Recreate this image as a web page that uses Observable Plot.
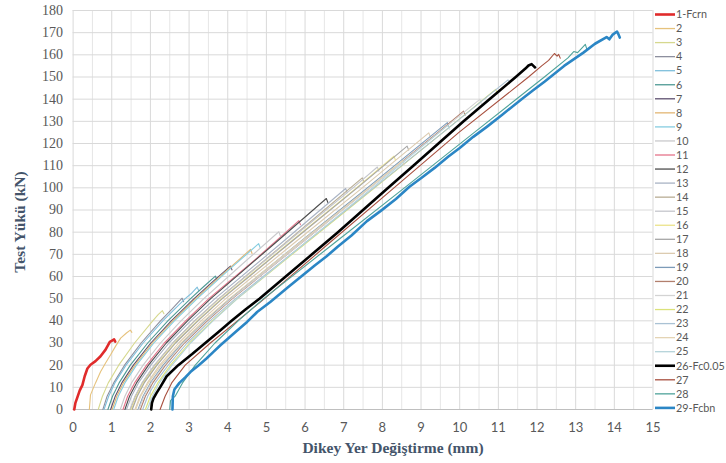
<!DOCTYPE html>
<html><head><meta charset="utf-8">
<script src="https://cdn.jsdelivr.net/npm/d3@7"></script>
<script src="https://cdn.jsdelivr.net/npm/@observablehq/plot@0.6"></script>
<style>
body{margin:0;background:#fff;}
#wrap{position:relative;width:726px;height:463px;overflow:hidden;background:#fff;}
#wrap svg.plot{position:absolute;left:0;top:0;}
.ytitle,.xtitle{position:absolute;font-family:"Liberation Serif",serif;font-weight:bold;font-size:15.5px;color:#44546a;white-space:nowrap;}
.xtitle{left:393px;top:448px;transform:translate(-50%,-50%);}
.ytitle{left:20px;top:222px;transform:translate(-50%,-50%) rotate(-90deg);}
#legend{position:absolute;left:650px;top:0;}
</style></head><body>
<div id="wrap"></div>
<script>
const seriesNames = ["1-Fcrn","2","3","4","5","6","7","8","9","10","11","12","13","14","15","16","17","18","19","20","21","22","23","24","25","26-Fc0.05","27","28","29-Fcbn"];
const seriesColors = ["#e02b2b","#e6c27c","#d6d88e","#8d8f9e","#7fbfdc","#4e9a95","#5d4f6e","#e3b673","#86cde0","#c9c9cc","#e5738a","#4d4d4d","#a9b3c4","#b8ad94","#c4c6cc","#ebe38a","#a6a6a6","#dccbb0","#7c9bb8","#b27f6d","#d3d3d3","#dbe27a","#aac2d4","#e4d4b4","#b5d3da","#000000","#a8503f","#4fa39a","#2b86c5"];
const thickSeries = ["1-Fcrn","26-Fc0.05","29-Fcbn"];
const xTicks = [0,1,2,3,4,5,6,7,8,9,10,11,12,13,14,15];
const xMinor = [0.5,1.5,2.5,3.5,4.5,5.5,6.5,7.5,8.5,9.5,10.5,11.5,12.5,13.5,14.5];
const yTicks = [0,10,20,30,40,50,60,70,80,90,100,110,120,130,140,150,160,170,180];

const s01 = [[0.03,0],[0.06,3],[0.11,5.5],[0.17,8.5],[0.24,11],[0.3,15],[0.37,18.5],[0.45,20.2],[0.58,21.8],[0.71,24],[0.84,27],[0.95,30.5],[1.02,31.2],[1.06,31.6],[1.09,30.6]];
const s02 = [[0.42,0],[0.45,6.6],[0.58,12],[0.71,17],[0.84,21],[0.97,24.7],[1.1,28.6],[1.23,32.2],[1.38,34.5],[1.48,35.8],[1.52,34.8]];
const s03 = [[0.65,0],[0.76,6],[0.91,12],[1.18,20],[1.59,30],[2.06,40],[2.2,42.8],[2.31,44.6],[2.35,43.2]];
const s04 = [[0.77,0],[0.88,6],[1.05,12],[1.33,20],[1.76,30],[2.26,40],[2.55,45.2],[2.82,50.2],[2.86,48.6]];
const s05 = [[0.8,0],[0.92,6],[1.08,12],[1.37,20],[1.81,30],[2.32,40],[2.9,50],[3.05,52.2],[3.21,55.2],[3.25,53.6]];
const s06 = [[0.9,0],[1.02,6],[1.19,12],[1.48,20],[1.93,30],[2.45,40],[3.04,50],[3.38,55.5],[3.68,60.2],[3.72,58.5]];
const s07 = [[0.97,0],[1.09,6],[1.26,12],[1.56,20],[2.01,30],[2.54,40],[3.13,50],[3.62,57.8],[4.07,64.7],[4.11,63]];
const s08 = [[1.01,0],[1.13,6],[1.3,12],[1.6,20],[2.05,30],[2.58,40],[3.17,50],[3.9,61.5],[4.59,72.2],[4.63,70.4]];
const s09 = [[1.05,0],[1.17,6],[1.34,12],[1.64,20],[2.09,30],[2.62,40],[3.21,50],[4.0,62.5],[4.8,74.8],[4.84,73]];
const s10 = [[1.22,0],[1.34,6],[1.51,12],[1.81,20],[2.26,30],[2.79,40],[3.38,50],[4.35,65.2],[5.32,80.2],[5.36,78.4]];
const s11 = [[1.29,0],[1.41,6],[1.59,12],[1.9,20],[2.36,30],[2.91,40],[3.51,50],[4.7,67.5],[5.84,85.2],[5.88,83.4]];
const s12 = [[1.34,0],[1.46,6],[1.64,12],[1.95,20],[2.41,30],[2.96,40],[3.56,50],[5.22,75],[6.55,95.2],[6.59,93.4]];
const s13 = [[1.38,0],[1.51,6],[1.69,12],[2.01,20],[2.48,30],[3.04,40],[3.67,50],[5.38,75],[7.05,99.7],[7.09,97.8]];
const s14 = [[1.48,0],[1.61,6],[1.79,12],[2.11,20],[2.58,30],[3.14,40],[3.77,50],[5.48,75],[7.48,104.5],[7.52,102.6]];
const s15 = [[1.47,0],[1.6,6],[1.78,12],[2.1,20],[2.58,30],[3.15,40],[3.78,50],[5.5,75],[7.24,100],[7.87,109.4],[7.91,107.5]];
const s16 = [[1.51,0],[1.64,6],[1.82,12],[2.15,20],[2.63,30],[3.21,40],[3.84,50],[5.58,75],[7.33,100],[8.3,114.3],[8.34,112.4]];
const s17 = [[1.53,0],[1.66,6],[1.84,12],[2.17,20],[2.65,30],[3.23,40],[3.86,50],[5.6,75],[7.35,100],[8.64,118.8],[8.68,117]];
const s18 = [[1.6,0],[1.73,6],[1.92,12],[2.24,20],[2.73,30],[3.31,40],[3.95,50],[5.71,75],[7.48,100],[9.2,124.8],[9.24,123]];
const s19 = [[1.68,0],[1.81,6],[2.0,12],[2.33,20],[2.82,30],[3.41,40],[4.06,50],[5.83,75],[7.61,100],[9.68,129.4],[9.72,127.5]];
const s20 = [[1.74,0],[1.87,6],[2.06,12],[2.39,20],[2.88,30],[3.47,40],[4.12,50],[5.89,75],[7.67,100],[9.44,125],[10.1,134.6],[10.14,132.8]];
const s21 = [[1.7,0],[1.83,6],[2.02,12],[2.36,20],[2.85,30],[3.44,40],[4.1,50],[5.89,75],[7.68,100],[9.47,125],[10.52,139.9],[10.56,138]];
const s22 = [[1.87,0],[2.0,6],[2.19,12],[2.52,20],[3.01,30],[3.6,40],[4.25,50],[6.02,75],[7.8,100],[9.57,125],[10.93,144.4],[10.97,142.5]];
const s23 = [[1.8,0],[1.93,6],[2.12,12],[2.46,20],[2.95,30],[3.54,40],[4.2,50],[5.99,75],[7.78,100],[9.57,125],[11.25,148.7],[11.29,147]];
const s24 = [[1.62,0],[1.75,6],[1.95,12],[2.28,20],[2.79,30],[3.38,40],[4.04,50],[5.84,75],[7.66,100],[8.52,112.2],[8.56,110.5]];
const s25 = [[1.92,0],[2.05,6],[2.23,12],[2.56,20],[3.04,30],[3.62,40],[4.25,50],[5.99,75],[7.74,100],[9.69,128.2],[9.73,126.5]];
const s26 = [[2.02,0],[2.04,3],[2.08,5],[2.16,7.5],[2.25,10],[2.42,15],[2.72,20],[3.08,25],[3.42,30],[3.76,35],[4.1,40],[4.45,45],[4.82,50],[5.5,60],[6.18,70],[6.85,80],[7.5,90],[8.15,100],[8.8,110],[9.45,120],[10.1,130],[10.77,140],[11.45,150],[11.7,153.8],[11.78,155.2],[11.86,155.8],[11.92,154.8],[11.95,154.3]];
const s27 = [[2.25,0],[2.38,6],[2.55,12],[2.9,20],[3.55,30],[4.25,40],[4.95,50],[6.62,75],[8.3,100],[9.98,125],[11.78,150],[12.12,155],[12.3,157.5],[12.45,160.6],[12.52,159.4],[12.56,160.2],[12.6,158.5]];
const s28 = [[2.5,0],[2.52,4],[2.64,6],[2.83,12],[3.16,20],[3.67,30],[4.27,40],[4.93,50],[6.75,75],[8.57,100],[10.38,125],[12.19,150],[12.8,158.6],[12.95,161.5],[13.05,161],[13.25,164.7],[13.29,162.5]];
const s29 = [[2.57,0],[2.58,6],[2.62,9],[2.75,12],[2.9,14.5],[3.04,17],[3.25,20],[3.45,23],[3.63,26],[3.81,29],[4.2,35],[4.5,39.5],[4.76,44],[5.1,48.5],[5.55,55],[5.9,60],[6.25,65],[6.55,69],[6.85,73.5],[7.2,78.5],[7.6,85],[7.95,89.5],[8.35,95],[8.7,100.5],[9.05,105],[9.35,109],[9.7,114],[10.0,118],[10.35,123],[10.7,127.5],[11.1,133],[11.6,140],[11.9,144],[12.2,148],[12.7,155],[13.2,161],[13.5,165],[13.8,168],[13.87,167],[13.95,169],[14.07,170.5],[14.1,169.5],[14.14,167.8]];

const allSeries = [s01,s02,s03,s04,s05,s06,s07,s08,s09,s10,s11,s12,s13,s14,s15,s16,s17,s18,s19,s20,s21,s22,s23,s24,s25,s26,s27,s28,s29];

const rows = [];
allSeries.forEach((pts, i) => pts.forEach(([x, y]) => rows.push({x, y, s: seriesNames[i], c: seriesColors[i]})));
const thin = rows.filter(d => !thickSeries.includes(d.s));
const thickMarks = thickSeries.map(name => Plot.line(rows.filter(d => d.s === name), {x: "x", y: "y", stroke: "c", strokeWidth: 2.6, strokeLinejoin: "round"}));

const plot = Plot.plot({
  width: 726, height: 463,
  marginLeft: 72.6, marginRight: 73.5, marginTop: 10, marginBottom: 54,
  x: {domain: [0, 15]},
  y: {domain: [0, 180]},
  color: {type: "identity"},
  style: {background: "#fff"},
  marks: [
    Plot.ruleX(xMinor, {stroke: "#e6e6e6", strokeWidth: 1}),
    Plot.ruleX(xTicks, {stroke: "#d9d9d9", strokeWidth: 1}),
    Plot.ruleY(yTicks, {stroke: "#d9d9d9", strokeWidth: 1}),
    Plot.ruleY([0], {stroke: "#bfbfbf", strokeWidth: 1}),
    Plot.axisX({ticks: xTicks, tickSize: 0, tickPadding: 13, label: null, fontSize: 13, fontFamily: "Lato, sans-serif", fill: "#595959", tickFormat: d => String(d)}),
    Plot.axisY({ticks: yTicks, tickSize: 0, tickPadding: 10, label: null, fontSize: 14, fontFamily: "Liberation Serif, serif", fill: "#595959", tickFormat: d => String(d)}),
    Plot.line(thin, {x: "x", y: "y", z: "s", stroke: "c", strokeWidth: 1.1, strokeLinejoin: "round"}),
    ...thickMarks
  ]
});
plot.classList.add("plot");
const wrap = document.getElementById("wrap");
wrap.appendChild(plot);

const xt = document.createElement("div"); xt.className = "xtitle"; xt.textContent = "Dikey Yer Değiştirme (mm)"; wrap.appendChild(xt);
const yt = document.createElement("div"); yt.className = "ytitle"; yt.textContent = "Test Yükü (kN)"; wrap.appendChild(yt);

const leg = d3.select(wrap).append("svg").attr("id", "legend").attr("width", 76).attr("height", 463);
seriesNames.forEach((name, i) => {
  const y = 14.5 + i * 14.05;
  const thick = thickSeries.includes(name);
  leg.append("line").attr("x1", 5).attr("x2", 25).attr("y1", y).attr("y2", y)
    .attr("stroke", seriesColors[i]).attr("stroke-width", thick ? 2.6 : 1.3);
  leg.append("text").attr("x", 26).attr("y", y).attr("dy", "0.35em")
    .attr("font-family", "Lato, sans-serif").attr("font-size", 10.8).attr("fill", "#595959").text(name);
});
</script>
</body></html>
